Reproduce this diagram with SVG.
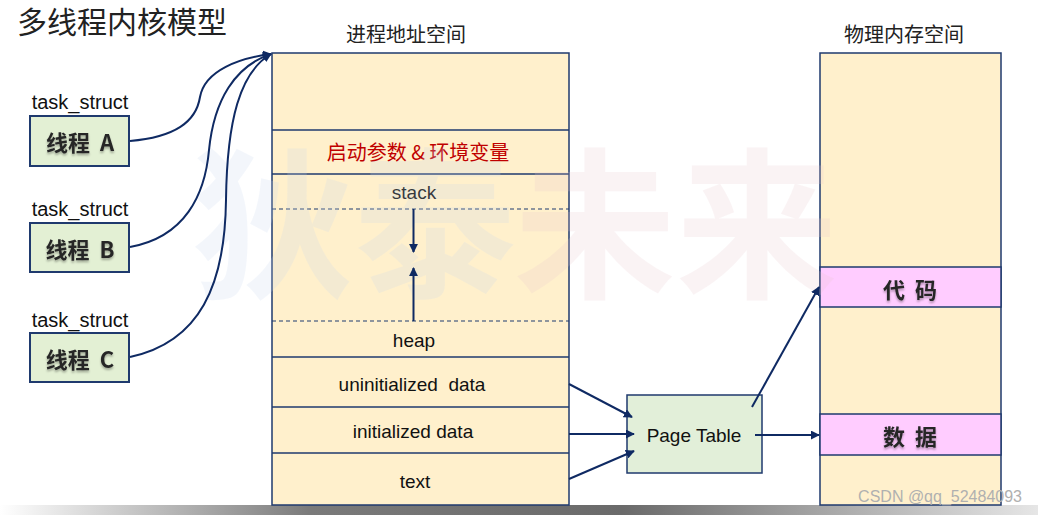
<svg xmlns="http://www.w3.org/2000/svg" width="1038" height="515" viewBox="0 0 1038 515">
<defs>
<marker id="arr" viewBox="0 0 10 10" refX="9" refY="5" markerWidth="9" markerHeight="9" markerUnits="userSpaceOnUse" orient="auto">
<path d="M0,0 L10,5 L0,10 z" fill="#0f2a63"/>
</marker>
<linearGradient id="bar" x1="0" y1="0" x2="1" y2="0">
<stop offset="0" stop-color="#ffffff"/>
<stop offset="0.3" stop-color="#7a7a7a"/>
<stop offset="0.6" stop-color="#6a6a6a"/>
<stop offset="1" stop-color="#e6e6e6"/>
</linearGradient>
<filter id="sh" x="-10%" y="-10%" width="120%" height="140%">
<feDropShadow dx="0" dy="2" stdDeviation="1" flood-color="#000" flood-opacity="0.3"/>
</filter>
</defs>
<style>
.cjk{font-family:"Noto Sans CJK SC","Liberation Sans",sans-serif}
.lat{font-family:"Liberation Sans","Noto Sans CJK SC",sans-serif}
.box{stroke:#1f3a6e;stroke-width:1.5}
.thread{fill:#e3f0d4;stroke:#1f3a6e;stroke-width:2}
.seg{fill:#fff0cc}
.pink{fill:#ffccff;stroke:#1f3a6e;stroke-width:1.5}
.line{stroke:#1f3a6e;stroke-width:1.3;fill:none}
.dash{stroke:#1f3a6e;stroke-width:1.2;stroke-dasharray:4 3;fill:none}
.conn{stroke:#0f2a63;stroke-width:2;fill:none}
.lbl{font-size:19px;fill:#111;text-anchor:middle}
.ts{font-size:20px;fill:#111;text-anchor:middle}
.tb{font-size:22px;font-weight:bold;fill:#262626;text-anchor:middle}
.hd{font-size:20px;fill:#222;text-anchor:middle}
</style>
<rect x="0" y="0" width="1038" height="515" fill="#ffffff"/>
<rect x="0" y="505" width="1038" height="10" fill="url(#bar)"/>

<text x="17" y="33" class="cjk" font-size="30" fill="#222">多线程内核模型</text>

<g id="threadA">
<text x="80" y="109" class="lat ts">task_struct</text>
<rect x="30" y="116" width="99" height="50" class="thread"/>
<text x="80" y="151" class="cjk tb" filter="url(#sh)" xml:space="preserve">线程  A</text>
</g>
<g id="threadB">
<text x="80" y="216" class="lat ts">task_struct</text>
<rect x="30" y="223" width="99" height="49" class="thread"/>
<text x="80" y="258" class="cjk tb" filter="url(#sh)" xml:space="preserve">线程  B</text>
</g>
<g id="threadC">
<text x="80" y="327" class="lat ts">task_struct</text>
<rect x="30" y="333" width="99" height="49" class="thread"/>
<text x="80" y="368" class="cjk tb" filter="url(#sh)" xml:space="preserve">线程  C</text>
</g>

<g id="address-space">
<text x="406" y="42" class="cjk hd">进程地址空间</text>
<rect x="272" y="53" width="297" height="452" class="seg box"/>
<line x1="272" y1="130" x2="569" y2="130" class="line"/>
<line x1="272" y1="174" x2="569" y2="174" class="line"/>
<line x1="272" y1="209" x2="569" y2="209" class="dash"/>
<line x1="272" y1="321" x2="569" y2="321" class="dash"/>
<line x1="272" y1="357" x2="569" y2="357" class="line"/>
<line x1="272" y1="407" x2="569" y2="407" class="line"/>
<line x1="272" y1="453" x2="569" y2="453" class="line"/>
<text x="418" y="160" class="cjk" font-size="20" fill="#c00000" text-anchor="middle" xml:space="preserve">启动参数 &amp; 环境变量</text>
<text x="414" y="199" class="lat lbl">stack</text>
<text x="414" y="347" class="lat lbl">heap</text>
<text x="412" y="391" class="lat lbl" xml:space="preserve">uninitialized  data</text>
<text x="413" y="438" class="lat lbl">initialized data</text>
<text x="415" y="488" class="lat lbl">text</text>
</g>

<g id="page-table">
<rect x="627" y="395" width="135" height="78" fill="#e2efd9" class="box"/>
<text x="694" y="442" class="lat" font-size="19" fill="#111" text-anchor="middle">Page Table</text>
</g>

<g id="physical-memory">
<text x="904" y="42" class="cjk hd">物理内存空间</text>
<rect x="820" y="53" width="181" height="452" class="seg box"/>
<rect x="820" y="267" width="181" height="40" class="pink"/>
<rect x="820" y="414" width="181" height="41" class="pink"/>
<text x="910" y="298" class="cjk tb" filter="url(#sh)" xml:space="preserve">代  码</text>
<text x="910" y="445" class="cjk tb" filter="url(#sh)" xml:space="preserve">数  据</text>
</g>

<g id="watermark" class="cjk" font-size="162" font-weight="bold" opacity="0.2">
<text x="192" y="286" fill="#c6d6ee">狄泰</text>
<text x="514" y="286" fill="#e8c6cc">未来</text>
</g>

<g id="connectors">
<path d="M130,141 C175,137 196,122 200,97 C205,70 240,58 271,54" class="conn" marker-end="url(#arr)"/>
<path d="M130,247 C185,237 205,195 209,150 C214,100 235,66 271,54" class="conn" marker-end="url(#arr)"/>
<path d="M130,357 C200,342 225,285 226,200 C227,120 240,72 271,54" class="conn" marker-end="url(#arr)"/>
<line x1="413.5" y1="209" x2="413.5" y2="252" class="conn" marker-end="url(#arr)"/>
<line x1="413.5" y1="321" x2="413.5" y2="268" class="conn" marker-end="url(#arr)"/>
<line x1="569" y1="384" x2="632" y2="417" class="conn" marker-end="url(#arr)"/>
<line x1="569" y1="434" x2="634" y2="434" class="conn" marker-end="url(#arr)"/>
<line x1="569" y1="479" x2="634" y2="451" class="conn" marker-end="url(#arr)"/>
<line x1="752" y1="407" x2="819" y2="287" class="conn" marker-end="url(#arr)"/>
<line x1="755" y1="435" x2="819" y2="435" class="conn" marker-end="url(#arr)"/>
</g>

<text x="1022" y="502" class="lat" font-size="16" fill="#b0b0b0" text-anchor="end">CSDN @qq_52484093</text>
</svg>
